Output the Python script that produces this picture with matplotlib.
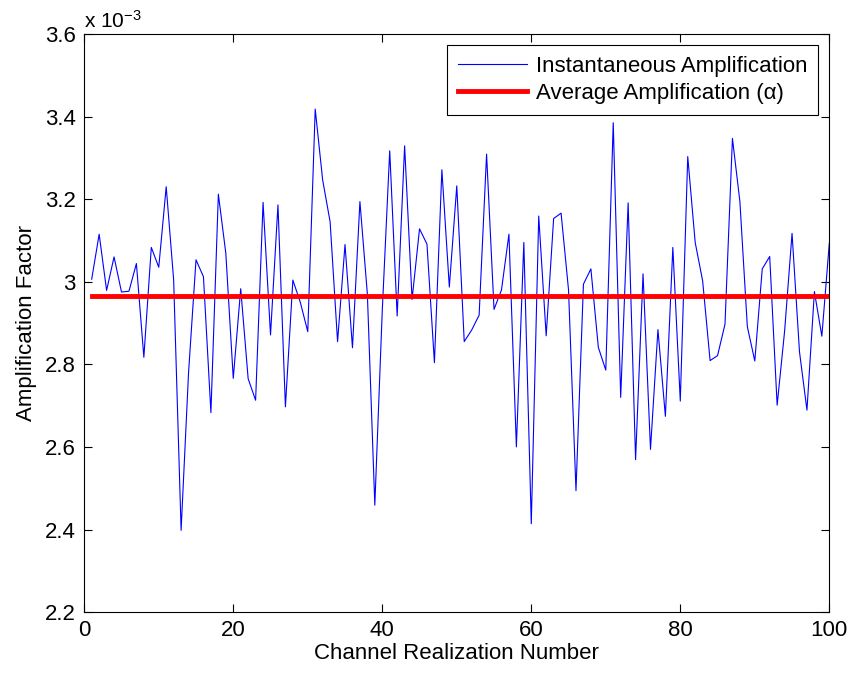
import numpy as np
import matplotlib
matplotlib.use('Agg')
import matplotlib.pyplot as plt

# values in units of 1e-3
realization = list(range(1, 101))
inst_amp = [
    3.006, 3.115, 2.979, 3.060, 2.975, 2.977, 3.044, 2.817, 3.083, 3.035,
    3.230, 3.004, 2.398, 2.780, 3.053, 3.012, 2.683, 3.212, 3.069, 2.766,
    2.983, 2.765, 2.713, 3.192, 2.871, 3.186, 2.697, 3.004, 2.950, 2.879,
    3.418, 3.246, 3.145, 2.855, 3.090, 2.840, 3.194, 2.970, 2.459, 2.930,
    3.317, 2.917, 3.329, 2.957, 3.128, 3.091, 2.804, 3.271, 2.987, 3.232,
    2.855, 2.883, 2.919, 3.309, 2.933, 2.980, 3.115, 2.600, 3.095, 2.414,
    3.159, 2.869, 3.153, 3.166, 2.980, 2.494, 2.994, 3.031, 2.841, 2.786,
    3.385, 2.720, 3.191, 2.569, 3.019, 2.594, 2.884, 2.674, 3.083, 2.711,
    3.303, 3.095, 3.002, 2.809, 2.821, 2.897, 3.347, 3.194, 2.891, 2.808,
    3.031, 3.061, 2.701, 2.880, 3.117, 2.830, 2.689, 2.976, 2.868, 3.093,
]
avg_amp = 2.965
x_ticks = [0, 20, 40, 60, 80, 100]
y_ticks = [2.2, 2.4, 2.6, 2.8, 3.0, 3.2, 3.4, 3.6]

plt.rcParams['font.family'] = ['Liberation Sans', 'DejaVu Sans']
plt.rcParams['mathtext.fontset'] = 'custom'
plt.rcParams['mathtext.rm'] = 'Liberation Sans'
plt.rcParams['mathtext.it'] = 'Liberation Sans:italic'

fs = 16

fig = plt.figure(figsize=(8.53, 6.79), dpi=100)
ax = fig.add_axes([84.25 / 853, 1 - 612.1 / 679, (829.3 - 84.25) / 853, (612.1 - 33.9) / 679])

ax.plot(realization, inst_amp, color='blue', lw=0.8, label='Instantaneous Amplification')
ax.plot([realization[0], realization[-1]], [avg_amp, avg_amp], color='red', lw=3.5,
        label='Average Amplification (α)')

ax.set_xlim(0, 100)
ax.set_ylim(2.2, 3.6)
ax.set_xticks(x_ticks)
ax.set_yticks(y_ticks)
ax.set_yticklabels(['%g' % v for v in y_ticks])
ax.tick_params(direction='in', length=6, width=0.8, labelsize=fs, top=True, right=True)
ax.tick_params(axis='x', pad=6)
ax.tick_params(axis='y', pad=6)
for s in ax.spines.values():
    s.set_linewidth(0.8)

ax.set_xlabel('Channel Realization Number', fontsize=fs, labelpad=1)
ax.set_ylabel('Amplification Factor', fontsize=fs, labelpad=6)
ax.text(0.0, 1.004, r'x 10$^{-3}$', transform=ax.transAxes, fontsize=fs - 1, va='bottom', ha='left')

leg = ax.legend(loc='upper right', fontsize=fs, fancybox=False, edgecolor='black',
                framealpha=1, borderaxespad=0.5, handlelength=3.1, handletextpad=0.4,
                borderpad=0.5, labelspacing=0.25)
leg.get_frame().set_linewidth(0.8)

fig.savefig('out.png', dpi=100)
